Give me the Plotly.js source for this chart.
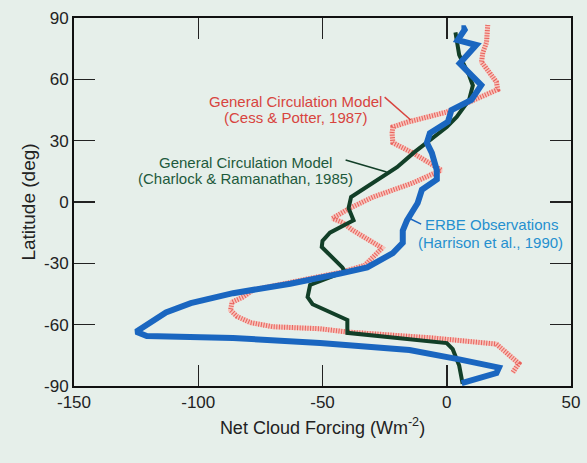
<!DOCTYPE html>
<html>
<head>
<meta charset="utf-8">
<script src="https://cdn.plot.ly/plotly-3.0.1.min.js"></script>
<style>
  html, body { margin: 0; padding: 0; background: #e6efea; }
  #chart { width: 587px; height: 463px; }
</style>
</head>
<body>
<div id="chart"></div>
<script>
// ERBE Observations (Harrison et al., 1990)
const erbeLat = [85, 85, 79.2, 76.8, 67.8, 57.2, 49.9, 45, 39.3, 33.6, 29, 24, 15.6, 11, 6, -0.5, -5, -9, -14, -20, -25, -32, -35, -40, -44.6, -49.5, -54, -63.5, -65.6, -66.5, -69, -72.4, -77, -81, -83.7, -88.6];
const erbeNCF = [5.9, 7.6, 4.4, 11.9, 5.2, 13.9, 9.9, 1.9, 0.5, -6.8, -8, -6, -4, -4, -10, -11.7, -14, -16, -17.7, -17.7, -21.7, -32, -43, -63, -86, -103, -113, -125, -120.7, -86, -51, -15, 5, 21, 20, 6];

// General Circulation Model (Charlock & Ramanathan, 1985)
const crLat = [83, 72, 62, 57, 50, 41.6, 36.7, 24.4, 17, 2.4, -3, -9, -10.5, -15, -19, -22, -32, -34, -40.6, -46.5, -50, -57.7, -64, -69, -72, -80, -89];
const crNCF = [3.5, 5, 9, 10.5, 9, 4, 0, -13, -20, -38.5, -39.5, -37.5, -40, -47, -50, -50.3, -42, -41, -55, -56, -54, -40, -40, 0, 2.4, 5, 6.4];

// General Circulation Model (Cess & Potter, 1987)
const cpLat = [86.6, 78, 73, 68.5, 58.7, 55, 51, 44, 39, 36.7, 33.7, 29, 24, 15.6, 9.3, 2.4, -3, -8, -10, -13.7, -22.5, -31, -34.5, -39.7, -43, -46.5, -49, -52.9, -56, -59, -61, -62, -63.6, -66.5, -69.5, -79, -83.5];
const cpNCF = [16.5, 16, 14.5, 14, 20, 20.5, 13, 0, -16, -21.7, -22, -21.7, -13.7, -2.2, -13.7, -29.7, -39, -46, -42, -38, -26, -33, -43, -63, -78, -82, -86.4, -87, -84.4, -79, -70, -51, -40, -5.6, 20, 29, 26.5];

const xTicks = [-150, -100, -50, 0, 50];
const yTicks = [-90, -60, -30, 0, 30, 60, 90];

const traces = [
  { x: cpNCF, y: cpLat, mode: 'lines', line: { color: '#f6c4bc', width: 5 }, hoverinfo: 'skip' },
  { x: cpNCF, y: cpLat, mode: 'lines', line: { color: '#e8625c', width: 5, dash: '1px,1.6px' }, hoverinfo: 'skip' },
  { x: crNCF, y: crLat, mode: 'lines', line: { color: '#123f28', width: 4 } },
  { x: erbeNCF, y: erbeLat, mode: 'lines', line: { color: '#1a66c0', width: 6 } }
];

const font = 'Liberation Sans, Arial, Helvetica, sans-serif';
const red = '#d8443e', green = '#1d5a3c', blue = '#2590cf';

const ann = (text, x, y, color, xanchor) => ({
  text, x, y, xref: 'x', yref: 'y', showarrow: false, xanchor: xanchor || 'center', yanchor: 'middle',
  font: { family: font, size: 15, color }
});

const layout = {
  width: 587, height: 463,
  paper_bgcolor: '#e6efea', plot_bgcolor: '#e6efea',
  margin: { l: 74, r: 16, t: 18, b: 77 },
  showlegend: false,
  font: { family: font, color: '#222' },
  xaxis: {
    range: [-150, 50], tickvals: xTicks, ticktext: xTicks.map(String),
    showline: true, linecolor: '#111', linewidth: 2, mirror: 'ticks',
    ticks: 'inside', ticklen: 21, tickwidth: 1.5, tickcolor: '#222',
    showgrid: false, zeroline: false,
    tickfont: { family: font, size: 17, color: '#222' },
    title: { text: 'Net Cloud Forcing (Wm<sup>-2</sup>)', font: { family: font, size: 18, color: '#222' }, standoff: 10 }
  },
  yaxis: {
    range: [-90, 90], tickvals: yTicks, ticktext: yTicks.map(String),
    showline: true, linecolor: '#111', linewidth: 2, mirror: 'ticks',
    ticks: 'inside', ticklen: 21, tickwidth: 1.5, tickcolor: '#222',
    showgrid: false, zeroline: false,
    tickfont: { family: font, size: 17, color: '#222' },
    title: { text: 'Latitude (deg)', font: { family: font, size: 19, color: '#222' }, standoff: 3 }
  },
  annotations: [
    ann('General Circulation Model', -60.9, 49.4, red),
    ann('(Cess &amp; Potter, 1987)', -60.9, 41.1, red),
    ann('General Circulation Model', -81, 19.5, green),
    ann('(Charlock &amp; Ramanathan, 1985)', -81, 11.7, green),
    ann('ERBE Observations', -9.7, -10.8, blue, 'left'),
    ann('(Harrison et al., 1990)', -12.5, -19.6, blue, 'left')
  ],
  shapes: [
    { type: 'line', xref: 'x', yref: 'y', x0: -25, y0: 51.3, x1: -14.5, y1: 40.1, line: { color: red, width: 1.5 } },
    { type: 'line', xref: 'x', yref: 'y', x0: -40.7, y0: 20.5, x1: -24.2, y1: 14.7, line: { color: '#123f28', width: 1.5 } },
    { type: 'line', xref: 'x', yref: 'y', x0: -14.5, y0: -8.3, x1: -10.3, y1: -10.8, line: { color: '#1a66c0', width: 1.5 } }
  ]
};

Plotly.newPlot('chart', traces, layout, { staticPlot: true, displayModeBar: false });
</script>
</body>
</html>
